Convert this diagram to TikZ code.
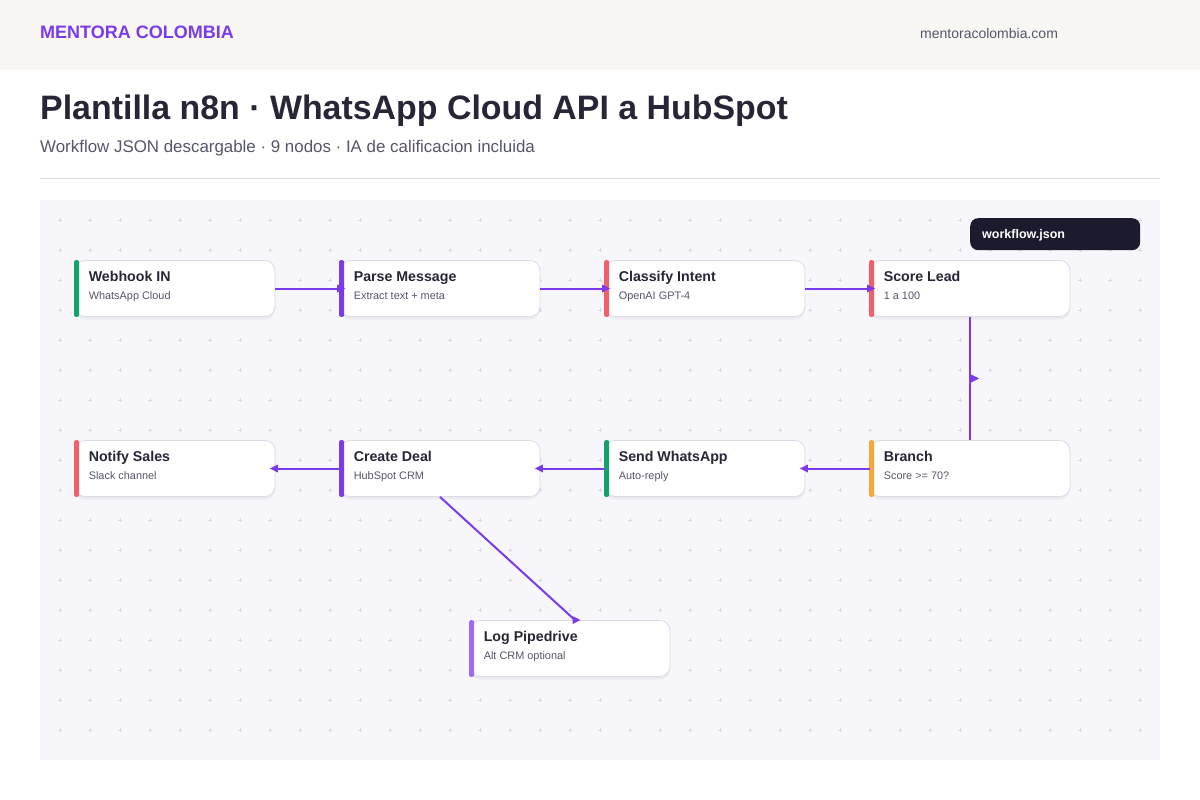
\documentclass[tikz,border=0pt]{standalone}
\usepackage{fontspec}
\setmainfont{Liberation Sans}
\usetikzlibrary{shapes.geometric,shadows,calc}
\definecolor{purp}{HTML}{7C3AED}
\definecolor{ink}{HTML}{262637}
\definecolor{muted}{HTML}{56566B}
\definecolor{headbg}{HTML}{F8F7F3}
\definecolor{canvasbg}{HTML}{F7F6FB}
\definecolor{cardline}{HTML}{DCDAE6}
\definecolor{rulec}{HTML}{DDDBE3}
\definecolor{dotc}{HTML}{DAD8E3}
\definecolor{darkbox}{HTML}{1C1B2E}
\definecolor{accgreen}{HTML}{16A06C}
\definecolor{accred}{HTML}{F0606A}
\definecolor{accorange}{HTML}{F5A83A}
\definecolor{acclilac}{HTML}{A06AF5}
\newcommand\mkcard[6]{%
  \node[card] (#1) at (#2,#3) {};
  \fill[#4, rounded corners=2pt] ($(#1.north west)+(-0.5,0)$) rectangle ($(#1.south west)+(4.5,0)$);
  \node[ttl] (#1-t) at ($(#1.north west)+(14,21)$) {#5};
  \node[subt] (#1-s) at ($(#1.north west)+(14,39)$) {#6};
}
\begin{document}
\begin{tikzpicture}[x=1pt,y=-1pt,
  card/.style={draw=cardline, line width=0.8pt, fill=white, rounded corners=10pt,
    minimum width=200pt, minimum height=56pt, inner sep=0pt,
    drop shadow={opacity=0.09, shadow xshift=0pt, shadow yshift=-3pt}},
  ttl/.style={anchor=base west, inner sep=0pt, text=ink, font=\bfseries\fontsize{14.2}{16}\selectfont},
  subt/.style={anchor=base west, inner sep=0pt, text=muted, font=\fontsize{10.9}{12}\selectfont},
  conn/.style={draw=purp, line width=2pt},
  tipr/.style={isosceles triangle, isosceles triangle apex angle=70, fill=purp, inner sep=0pt,
    minimum width=8pt, minimum height=8pt, isosceles triangle stretches, shape border rotate=0},
  tipl/.style={tipr, shape border rotate=180},
]
\useasboundingbox (0,0) rectangle (1200,800);
\fill[white] (0,0) rectangle (1200,800);
% header
\fill[headbg] (0,0) rectangle (1200,70);
\node[anchor=base west, inner sep=0pt, text=purp, font=\bfseries\fontsize{18}{20}\selectfont] (brand) at (40,38.5) {MENTORA COLOMBIA};
\node[anchor=base west, inner sep=0pt, text=muted, font=\fontsize{14}{16}\selectfont] (site) at (920,39) {mentoracolombia.com};
\node[anchor=base west, inner sep=0pt, text=ink, font=\bfseries\fontsize{33.9}{38}\selectfont] (title) at (40,119) {Plantilla n8n · WhatsApp Cloud API a HubSpot};
\node[anchor=base west, inner sep=0pt, text=muted, font=\fontsize{16.9}{19}\selectfont] (subtitle) at (40,152) {Workflow JSON descargable · 9 nodos · IA de calificacion incluida};
\draw[rulec, line width=1pt] (40,178.5) -- (1160,178.5);
% canvas
\fill[canvasbg] (40,200) rectangle (1160,760);
\foreach \gx in {60,90,...,1140} {
  \foreach \gy in {220,250,...,740} {
    \draw[dotc, line width=0.6pt] (\gx-1.8,\gy) -- (\gx+1.8,\gy) (\gx,\gy-1.8) -- (\gx,\gy+1.8);
  }
}
% workflow.json tag
\node[fill=darkbox, rounded corners=8pt, minimum width=170pt, minimum height=32pt, inner sep=0pt, anchor=north west] (wfbox) at (970,218) {};
\node[anchor=base west, inner sep=0pt, text=white, font=\bfseries\fontsize{12.5}{14}\selectfont] (wflabel) at (982,238) {workflow.json};
% cards
\mkcard{webhook}{175}{288.5}{accgreen}{Webhook IN}{WhatsApp Cloud}
\mkcard{parse}{440}{288.5}{purp}{Parse Message}{Extract text + meta}
\mkcard{classify}{705}{288.5}{accred}{Classify Intent}{OpenAI GPT-4}
\mkcard{score}{970}{288.5}{accred}{Score Lead}{1 a 100}
\mkcard{notify}{175}{468.5}{accred}{Notify Sales}{Slack channel}
\mkcard{deal}{440}{468.5}{purp}{Create Deal}{HubSpot CRM}
\mkcard{send}{705}{468.5}{accgreen}{Send WhatsApp}{Auto-reply}
\mkcard{branch}{970}{468.5}{accorange}{Branch}{Score >= 70?}
\mkcard{log}{570}{648.5}{acclilac}{Log Pipedrive}{Alt CRM optional}
% connectors
\draw[conn] (webhook.east) -- (parse.west) node[pos=1, tipr] (a1) {};
\draw[conn] (parse.east) -- (classify.west) node[pos=1, tipr] (a2) {};
\draw[conn] (classify.east) -- (score.west) node[pos=1, tipr] (a3) {};
\draw[conn] (score.south) -- (branch.north) node[pos=0.5, tipr, anchor=west] (a4) {};
\draw[conn] (branch.west) -- (send.east) node[pos=1, tipl] (a5) {};
\draw[conn] (send.west) -- (deal.east) node[pos=1, tipl] (a6) {};
\draw[conn] (deal.west) -- (notify.east) node[pos=1, tipl] (a7) {};
\coordinate (dealout) at ($(deal.south)+(0,0)$);
\coordinate (login) at ($(log.north)+(5,0)$);
\draw[conn] (dealout) -- (login) node[pos=1, tipr] (a8) {};
\end{tikzpicture}
\end{document}
